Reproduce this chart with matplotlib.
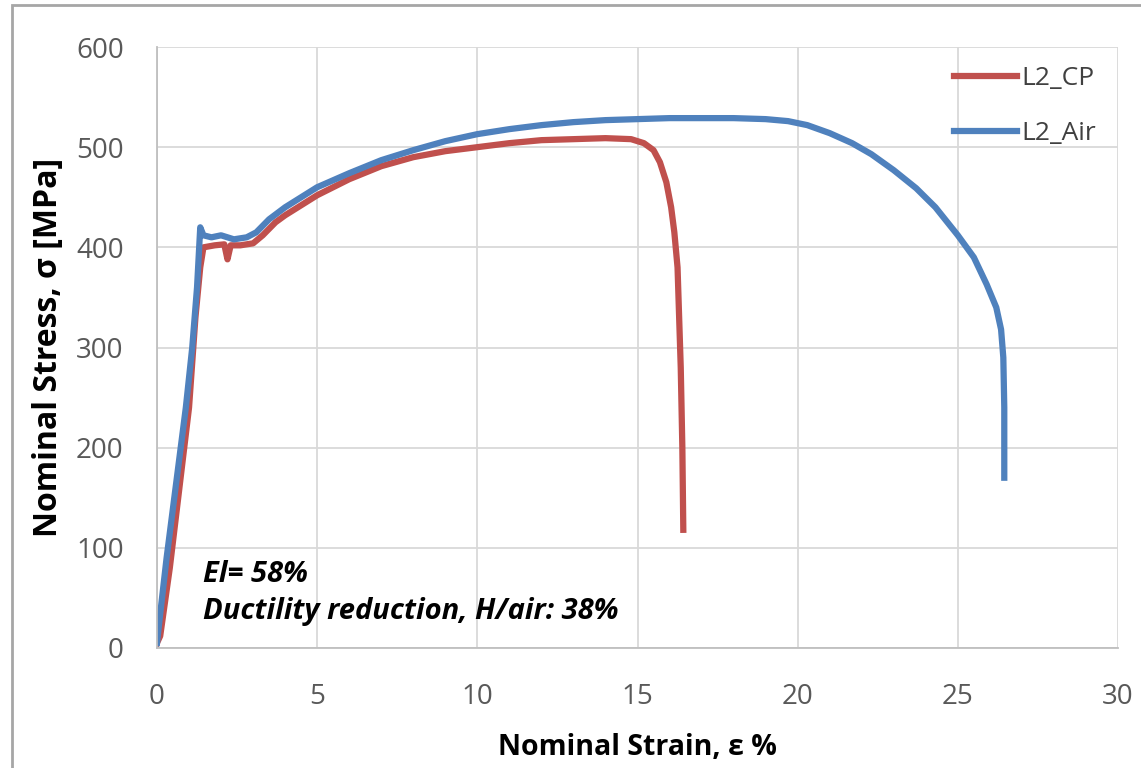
import matplotlib
matplotlib.use("Agg")
from matplotlib import pyplot as plt
from matplotlib.patches import Rectangle

# %%
# digitised curves (strain %, stress MPa)
air_strain = [0, 0.05, 0.3, 0.6, 0.9, 1.1, 1.25, 1.35, 1.45, 1.7, 2.0, 2.4, 2.8, 3.1, 3.5, 4.0,
              5.0, 6.0, 7.0, 8.0, 9.0, 10.0, 11.0, 12.0, 13.0, 14.0, 15.0, 16.0, 17.0, 18.0,
              19.0, 19.7, 20.3, 21.0, 21.7, 22.3, 23.0, 23.7, 24.3, 25.0, 25.5, 25.9, 26.2,
              26.35, 26.42, 26.45, 26.45]
air_stress = [5, 20, 90, 165, 240, 300, 360, 420, 412, 410, 412, 408, 410, 415, 428, 440,
              460, 474, 487, 497, 506, 513, 518, 522, 525, 527, 528, 529, 529, 529,
              528, 526, 522, 514, 504, 493, 477, 459, 440, 412, 390, 363, 340,
              318, 290, 240, 170]

cp_strain = [0, 0.1, 0.4, 0.7, 1.0, 1.2, 1.35, 1.45, 1.8, 2.1, 2.2, 2.3, 2.6, 3.0, 3.3, 3.7,
             4.0, 5.0, 6.0, 7.0, 8.0, 9.0, 10.0, 11.0, 12.0, 13.0, 14.0, 14.8, 15.2, 15.5,
             15.7, 15.9, 16.05, 16.15, 16.25, 16.3, 16.35, 16.4, 16.43]
cp_stress = [5, 12, 80, 160, 240, 330, 380, 400, 402, 403, 388, 402, 402, 404, 412, 425,
             432, 452, 468, 481, 490, 496, 500, 504, 507, 508, 509, 508, 504, 497,
             485, 465, 440, 415, 380, 330, 280, 200, 118]

x_ticks = [0, 5, 10, 15, 20, 25, 30]
y_ticks = [0, 100, 200, 300, 400, 500, 600]

# %%
plt.rcParams["font.family"] = ["Open Sans", "DejaVu Sans"]

fig = plt.figure(figsize=(11.41, 7.68), dpi=100)
ax = fig.add_axes([157 / 1141, 120 / 768, (1118 - 157) / 1141, (648 - 47) / 768])

ax.plot(cp_strain, cp_stress, color="#C0504D", lw=4.5, label="L2_CP", solid_joinstyle="round")
ax.plot(air_strain, air_stress, color="#4F81BD", lw=4.5, label="L2_Air", solid_joinstyle="round")

ax.set_xlim(0, 30)
ax.set_ylim(0, 600)
ax.set_xticks(x_ticks)
ax.set_yticks(y_ticks)
ax.tick_params(length=0, labelsize=20, colors="#595959")
ax.tick_params(axis="x", pad=25)
ax.tick_params(axis="y", pad=24)
ax.grid(color="#D9D9D9", lw=1.3)
ax.set_axisbelow(True)
for side in ["top", "right"]:
    ax.spines[side].set_visible(False)
for side in ["left", "bottom"]:
    ax.spines[side].set_color("#BFBFBF")
    ax.spines[side].set_linewidth(1.3)

ax.set_xlabel("Nominal Strain, ε %", fontsize=20.5, fontweight="bold", labelpad=16)
ax.set_ylabel("Nominal Stress, σ [MPa]", fontsize=23, fontweight="bold", labelpad=8)

ax.text(1.45, 73, "El= 58%", fontsize=21, fontweight="bold", style="italic", va="center")
ax.text(1.45, 36, "Ductility reduction, H/air: 38%", fontsize=21, fontweight="bold",
        style="italic", va="center")

leg = ax.legend(loc="upper right", bbox_to_anchor=(1.002, 1.008), frameon=False, fontsize=19,
                handlelength=2.4, handletextpad=0.15, labelspacing=1.15, labelcolor="#404040")

fig.patches.append(Rectangle((12 / 1141, -0.01), 1.0, 1 + 0.01 - 5 / 768, transform=fig.transFigure,
                             fill=False, edgecolor="#A6A6A6", lw=2))

fig.savefig("out.png", dpi=100, facecolor="white")
